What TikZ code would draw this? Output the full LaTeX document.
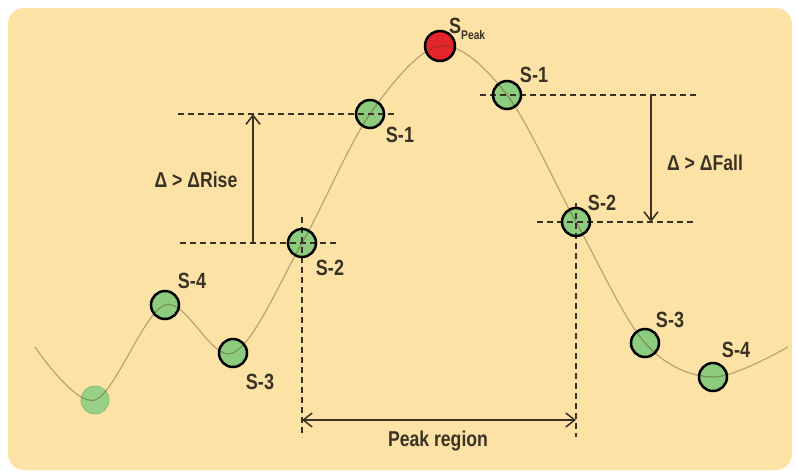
\documentclass[tikz,border=0pt]{standalone}
\usepackage{fontspec}
\setmainfont{Liberation Sans}
\newfontfamily\condensed{Liberation Sans}[FakeStretch=0.82]
\usetikzlibrary{arrows.meta}

\definecolor{panel}{HTML}{FDE2A6}
\definecolor{ink}{HTML}{3A3224}
\definecolor{dotgreen}{HTML}{8DCB7E}
\definecolor{dotred}{HTML}{E3262B}
\definecolor{trace}{HTML}{5A4A20}
\definecolor{fadegreen}{HTML}{98D088}
\definecolor{fadeedge}{HTML}{86C277}

\tikzset{
  sample/.style={circle, minimum size=28pt, inner sep=0pt, fill=dotgreen},
  peaksample/.style={circle, minimum size=30pt, inner sep=0pt, fill=dotred},
  ring/.style={draw=black, line width=2.5pt},
  guide/.style={draw=ink, line width=1.1pt, dash pattern=on 6pt off 4pt},
  slabel/.style={text=ink, font=\condensed\bfseries\fontsize{22}{24}\selectfont, inner sep=0pt},
  plainlabel/.style={text=ink, font=\condensed\bfseries\fontsize{21.5}{24}\selectfont, inner sep=0pt},
  barb/.style={-{Straight Barb[length=9pt,width=14pt,line width=1.6pt]}},
}

\begin{document}
\begin{tikzpicture}[x=1pt, y=-1pt]
\useasboundingbox (0,0) rectangle (796,475);
\fill[white] (0,0) rectangle (796,475);
\fill[panel, rounded corners=16pt] (8,8) rectangle (792,470);

% ends of the trace
\coordinate (start) at (35,347);
\coordinate (stop)  at (788,347);

% sample discs (fill only; outlines come after the trace)
\node[circle, minimum size=28pt, inner sep=0pt, fill=fadegreen, draw=fadeedge, line width=0.9pt] (f0) at (95,400) {};
\node[sample] (l4) at (165,305) {};
\node[sample] (l3) at (233,353) {};
\node[sample] (l2) at (302,243) {};
\node[sample] (l1) at (370,114) {};
\node[peaksample] (pk) at (440,46) {};
\node[sample] (r1) at (507,95) {};
\node[sample] (r2) at (576,222) {};
\node[sample] (r3) at (645,343) {};
\node[sample] (r4) at (713,377) {};

% the signal trace
\draw[trace, draw opacity=0.42, line width=1.2pt]
  plot[smooth, tension=0.55] coordinates {(start) (f0.center) (l4.center) (l3.center)
    (l2.center) (l1.center) (pk.center) (r1.center) (r2.center) (r3.center)
    (r4.center) (stop)};

% dashed reference levels
\coordinate (lua) at (178,114);  \coordinate (lub) at (395,114);
\coordinate (lla) at (180,243);  \coordinate (llb) at (338,243);
\coordinate (rua) at (480,95);   \coordinate (rub) at (697,95);
\coordinate (rla) at (537,222);  \coordinate (rlb) at (695,222);
\coordinate (lva) at (302,217);  \coordinate (lvb) at (302,437);
\coordinate (rva) at (576,203);  \coordinate (rvb) at (576,437);
\draw[guide] (lua) -- (lub);
\draw[guide] (lla) -- (llb);
\draw[guide] (rua) -- (rub);
\draw[guide] (rla) -- (rlb);
\draw[guide] (lva) -- (lvb);
\draw[guide] (rva) -- (rvb);

% disc outlines
\foreach \n in {l4,l3,l2,l1,r1,r2,r3,r4}
  \draw[ring] (\n.center) circle[radius=14pt];
\draw[ring] (pk.center) circle[radius=15pt];

% threshold arrows
\coordinate (risefoot) at (253,243);
\coordinate (risetop)  at (253,114);
\coordinate (falltop)  at (651,95);
\coordinate (fallfoot) at (651,222);
\draw[ink, line width=2.2pt, barb] (risefoot) -- (risetop);
\draw[ink, line width=1.4pt, barb] (falltop) -- (fallfoot);

% peak region span
\coordinate (spanl) at (302,420);
\coordinate (spanr) at (576,420);
\draw[ink, line width=1.5pt, {Straight Barb[length=9pt,width=14pt,line width=1.5pt]}-{Straight Barb[length=9pt,width=14pt,line width=1.5pt]}] (spanl) -- (spanr);

% labels
\node[plainlabel] (rise) at (196,180) {Δ > ΔRise};
\node[plainlabel] (fall) at (705,163) {Δ > ΔFall};
\node[plainlabel] (region) at (438,441) {Peak region};

\node[slabel] (tl4) at (192,281) {S-4};
\node[slabel] (tl3) at (260,382) {S-3};
\node[slabel] (tl2) at (330,268) {S-2};
\node[slabel] (tl1) at (400,135) {S-1};
\node[slabel] (tr1) at (534,75) {S-1};
\node[slabel] (tr2) at (602,203) {S-2};
\node[slabel] (tr3) at (670,320) {S-3};
\node[slabel] (tr4) at (736,350) {S-4};
\node[slabel, anchor=base west] (tpk) at (449,33)
  {S\raisebox{-0.3em}{\fontsize{12.5}{13}\selectfont Peak}};
\end{tikzpicture}
\end{document}
